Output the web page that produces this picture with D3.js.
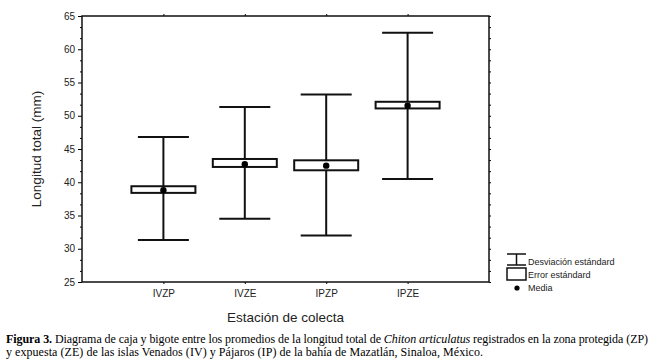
<!DOCTYPE html>
<html>
<head>
<meta charset="utf-8">
<script src="https://cdn.jsdelivr.net/npm/d3@7"></script>
<style>
  body { margin: 0; background: #fff; }
  text { font-family: Arial, "Liberation Sans", sans-serif; }
  .cap { font-family: "Liberation Serif", "Times New Roman", serif; font-size: 12px; }
</style>
</head>
<body>
<div id="chart"></div>
<script>
// station names and stats (mm)
const stations = ['IVZP', 'IVZE', 'IPZP', 'IPZE'];
const means = [38.8, 42.7, 42.5, 51.5];
const seLow = [38.4, 42.3, 41.8, 51.1];
const seHigh = [39.4, 43.5, 43.3, 52.1];
const sdLow = [31.3, 34.5, 32.0, 40.5];
const sdHigh = [46.8, 51.3, 53.2, 62.5];
const yTicks = [25, 30, 35, 40, 45, 50, 55, 60, 65];

const W = 652, H = 364;
const margin = {left: 82, top: 16, right: 163, bottom: 82};
const width = W - margin.left - margin.right;
const height = H - margin.top - margin.bottom;

const svg = d3.select('#chart').append('svg')
    .attr('width', W)
    .attr('height', H);
const g = svg.append('g')
    .attr('transform', 'translate(' + margin.left + ',' + margin.top + ')');

const x = d3.scalePoint().domain(stations).range([0, width]).padding(1);
const y = d3.scaleLinear().domain([25, 65]).range([height, 0]);

// minor ticks every 5/3 units
const minor = d3.range(0, 25).map((i) => 25 + i * 5 / 3).filter((v) => Math.abs(v % 5) > 0.01 && Math.abs(v % 5 - 5) > 0.01);

const yAxis = d3.axisLeft(y).tickValues(yTicks).tickSize(4).tickPadding(3);
const yAx = g.append('g').call(yAxis);
yAx.select('.domain').remove();
yAx.selectAll('text').style('font-size', '10px').attr('fill', '#222');

g.append('g').call(d3.axisLeft(y).tickValues(minor).tickSize(2).tickFormat(''))
    .select('.domain').remove();
g.append('g').attr('transform', 'translate(' + width + ',0)')
    .call(d3.axisRight(y).tickValues(yTicks.concat(minor)).tickSize(2).tickFormat(''))
    .select('.domain').remove();

const xAx = g.append('g').attr('transform', 'translate(0,' + height + ')')
    .call(d3.axisBottom(x).tickSize(2).tickPadding(6));
xAx.select('.domain').remove();
xAx.selectAll('text').style('font-size', '10px').attr('fill', '#222');
g.append('g').call(d3.axisTop(x).tickSize(2).tickFormat(''))
    .select('.domain').remove();

// frame
g.append('rect')
    .attr('width', width).attr('height', height)
    .attr('fill', 'none').attr('stroke', '#111').attr('stroke-width', 1.5);

const boxW = 64, capW = 51;
const rows = stations.map((s, i) => ({s, mean: means[i], lo: seLow[i], hi: seHigh[i], sdLo: sdLow[i], sdHi: sdHigh[i]}));

const grp = g.selectAll('.st').data(rows).enter().append('g')
    .attr('stroke', '#111').attr('stroke-width', 2);
grp.append('line')
    .attr('x1', (d) => x(d.s)).attr('x2', (d) => x(d.s))
    .attr('y1', (d) => y(d.sdHi)).attr('y2', (d) => y(d.sdLo));
grp.append('line')
    .attr('x1', (d) => x(d.s) - capW / 2).attr('x2', (d) => x(d.s) + capW / 2)
    .attr('y1', (d) => y(d.sdHi)).attr('y2', (d) => y(d.sdHi));
grp.append('line')
    .attr('x1', (d) => x(d.s) - capW / 2).attr('x2', (d) => x(d.s) + capW / 2)
    .attr('y1', (d) => y(d.sdLo)).attr('y2', (d) => y(d.sdLo));
grp.append('rect')
    .attr('x', (d) => x(d.s) - boxW / 2).attr('width', boxW)
    .attr('y', (d) => y(d.hi)).attr('height', (d) => y(d.lo) - y(d.hi))
    .attr('fill', '#fff');
grp.append('circle')
    .attr('cx', (d) => x(d.s)).attr('cy', (d) => y(d.mean)).attr('r', 3.2)
    .attr('fill', '#000').attr('stroke', 'none');

// axis titles
svg.append('text')
    .attr('transform', 'translate(41,' + (margin.top + height / 2) + ') rotate(-90)')
    .attr('text-anchor', 'middle')
    .style('font-size', '13.5px').attr('fill', '#222')
    .text('Longitud total (mm)');
svg.append('text')
    .attr('x', margin.left + width / 2).attr('y', 322)
    .attr('text-anchor', 'middle')
    .style('font-size', '13.5px').attr('fill', '#222')
    .text('Estación de colecta');

// legend
const lg = svg.append('g').attr('stroke', '#111').attr('stroke-width', 1.5);
lg.append('line').attr('x1', 507).attr('x2', 526).attr('y1', 254).attr('y2', 254);
lg.append('line').attr('x1', 516.5).attr('x2', 516.5).attr('y1', 254).attr('y2', 265);
lg.append('line').attr('x1', 507).attr('x2', 526).attr('y1', 265).attr('y2', 265);
lg.append('rect').attr('x', 507).attr('y', 268).attr('width', 19).attr('height', 12).attr('fill', '#fff');
svg.append('circle').attr('cx', 517).attr('cy', 288).attr('r', 2.6).attr('fill', '#000');
const legendTxt = [['Desviación estándard', 265], ['Error estándard', 278], ['Media', 291]];
svg.selectAll('.lt').data(legendTxt).enter().append('text')
    .attr('x', 528).attr('y', (d) => d[1])
    .style('font-size', '9px').attr('fill', '#222')
    .text((d) => d[0]);

// caption
const c1 = svg.append('text').attr('class', 'cap').attr('x', 6).attr('y', 343)
    .attr('textLength', 642).attr('lengthAdjust', 'spacing');
c1.append('tspan').attr('font-weight', 'bold').text('Figura 3.');
c1.append('tspan').text(' Diagrama de caja y bigote entre los promedios de la longitud total de ');
c1.append('tspan').attr('font-style', 'italic').text('Chiton articulatus');
c1.append('tspan').text(' registrados en la zona protegida (ZP)');
svg.append('text').attr('class', 'cap').attr('x', 6).attr('y', 356)
    .attr('textLength', 477).attr('lengthAdjust', 'spacing')
    .text('y expuesta (ZE) de las islas Venados (IV) y Pájaros (IP) de la bahía de Mazatlán, Sinaloa, México.');
</script>
</body>
</html>
